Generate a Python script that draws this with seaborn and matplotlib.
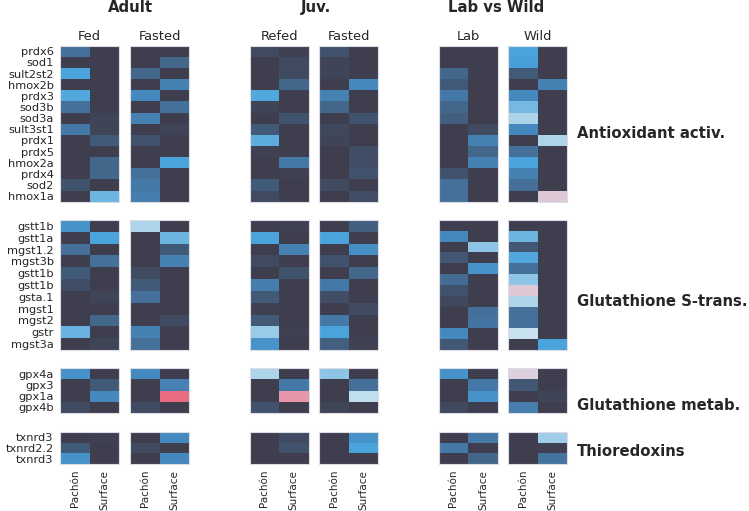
import numpy as np
import pandas as pd
import matplotlib
matplotlib.use("Agg")
import matplotlib.pyplot as plt
import seaborn as sns
from matplotlib.colors import LinearSegmentedColormap

# ---------------- data ----------------
strains = ["Pachón", "Surface"]
panel_titles = ["Fed", "Fasted", "Refed", "Fasted", "Lab", "Wild"]
group_titles = ["Adult", "Juv.", "Lab vs Wild"]
category_labels = ["Antioxidant activ.", "Glutathione S-trans.", "Glutathione metab.", "Thioredoxins"]

antiox_genes = ["prdx6", "sod1", "sult2st2", "hmox2b", "prdx3", "sod3b", "sod3a",
                "sult3st1", "prdx1", "prdx5", "hmox2a", "prdx4", "sod2", "hmox1a"]
gst_genes = ["gstt1b", "gstt1a", "mgst1.2", "mgst3b", "gstt1b", "gstt1b", "gsta.1",
             "mgst1", "mgst2", "gstr", "mgst3a"]
gpx_genes = ["gpx4a", "gpx3", "gpx1a", "gpx4b"]
trx_genes = ["txnrd3", "txnrd2.2", "txnrd3"]

# [Pachón, Surface] per gene (blue > 0, pink < 0)
antiox_adult_fed = [[0.30, 0], [0, 0], [0.60, 0], [0, 0], [0.62, 0], [0.30, 0], [0, 0.05],
                    [0.35, 0.05], [0, 0.20], [0, 0], [0, 0.25], [0, 0.25], [0.15, 0], [0, 0.70]]
antiox_adult_fasted = [[0, 0], [0, 0.25], [0.25, 0], [0, 0.40], [0.45, 0], [0, 0.30], [0.40, 0],
                       [0, 0.05], [0.15, 0], [0, 0], [0, 0.60], [0.30, 0], [0.35, 0], [0.38, 0]]
antiox_juv_refed = [[0.10, 0.02], [0, 0.10], [0, 0.10], [0, 0.25], [0.62, 0], [0.05, 0], [0, 0.15],
                    [0.20, 0], [0.65, 0], [0.03, 0], [0, 0.35], [0, 0.02], [0.20, 0], [0.10, 0]]
antiox_juv_fasted = [[0.15, 0], [0.05, 0], [0.05, 0], [0, 0.45], [0.40, 0], [0.25, 0], [0, 0.15],
                     [0.08, 0], [0.05, 0], [0, 0.12], [0, 0.12], [0, 0.15], [0.10, 0], [0, 0.12]]
antiox_lab = [[0, 0], [0, 0], [0.25, 0], [0.20, 0], [0.35, 0], [0.25, 0], [0.22, 0],
              [0, 0.10], [0, 0.40], [0, 0.25], [0, 0.40], [0.15, 0], [0.30, 0], [0.30, 0]]
antiox_wild = [[0.60, 0], [0.58, 0], [0.20, 0], [0, 0.40], [0.45, 0], [0.72, 0], [0.85, 0],
               [0.45, 0], [0, 0.85], [0.30, 0], [0.60, 0], [0.40, 0], [0.30, 0], [0, -0.85]]

gst_adult_fed = [[0.50, 0], [0, 0.60], [0.30, 0], [0, 0.30], [0.20, 0], [0.12, 0],
                 [0, 0.05], [0, 0], [0, 0.25], [0.68, 0], [0, 0.05]]
gst_adult_fasted = [[0.85, 0], [0, 0.70], [0, 0.20], [0, 0.40], [0.10, 0], [0.20, 0],
                    [0.30, 0], [0, 0], [0, 0.10], [0.40, 0], [0.30, 0]]
gst_juv_refed = [[0, 0.02], [0.60, 0], [0, 0.40], [0.10, 0], [0, 0.15], [0.38, 0],
                 [0.20, 0], [0.02, 0], [0.20, 0], [0.80, 0.02], [0.50, 0]]
gst_juv_fasted = [[0, 0.22], [0.60, 0], [0, 0.48], [0.15, 0], [0, 0.25], [0.35, 0],
                  [0.12, 0], [0, 0.10], [0.35, 0], [0.60, 0], [0.22, 0.02]]
gst_lab = [[0, 0], [0.45, 0], [0, 0.78], [0.18, 0], [0, 0.50], [0.28, 0],
           [0.15, 0], [0.08, 0], [0, 0.30], [0, 0.33], [0.45, 0], [0.18, 0]]
gst_wild = [[0, 0], [0.70, 0], [0.18, 0], [0.62, 0], [0.30, 0], [0.78, 0],
            [-0.85, 0], [0.85, 0], [0.30, 0], [0.30, 0], [0.95, 0], [0, 0.60]]

gpx_adult_fed = [[0.50, 0], [0, 0.20], [0, 0.45], [0.10, 0]]
gpx_adult_fasted = [[0.45, 0], [0, 0.40], [0, -0.40], [0.10, 0]]
gpx_juv_refed = [[0.85, 0], [0, 0.35], [0, -0.55], [0.15, 0]]
gpx_juv_fasted = [[0.78, 0], [0, 0.30], [0, 0.92], [0.05, 0]]
gpx_lab = [[0.50, 0], [0, 0.35], [0, 0.50], [0.08, 0]]
gpx_wild = [[-0.92, 0], [0.18, 0], [0, 0.05], [0.38, 0]]

trx_adult_fed = [[0, 0.02], [0.20, 0], [0.50, 0]]
trx_adult_fasted = [[0, 0.45], [0.10, 0], [0, 0.45]]
trx_juv_refed = [[0, 0.10], [0, 0.15], [0, 0]]
trx_juv_fasted = [[0, 0.50], [0, 0.60], [0, 0]]
trx_lab = [[0, 0.35], [0.35, 0], [0, 0.25]]
trx_wild = [[0, 0.82], [0, 0.02], [0, 0.32]]

groups = [
    (antiox_genes, [antiox_adult_fed, antiox_adult_fasted, antiox_juv_refed,
                    antiox_juv_fasted, antiox_lab, antiox_wild]),
    (gst_genes, [gst_adult_fed, gst_adult_fasted, gst_juv_refed,
                 gst_juv_fasted, gst_lab, gst_wild]),
    (gpx_genes, [gpx_adult_fed, gpx_adult_fasted, gpx_juv_refed,
                 gpx_juv_fasted, gpx_lab, gpx_wild]),
    (trx_genes, [trx_adult_fed, trx_adult_fasted, trx_juv_refed,
                 trx_juv_fasted, trx_lab, trx_wild]),
]

# ---------------- style ----------------
sns.set_theme(style="white")
plt.rcParams["font.family"] = ["DejaVu Sans"]
plt.rcParams["text.color"] = "#262626"
plt.rcParams["xtick.color"] = "#262626"
plt.rcParams["ytick.color"] = "#262626"

nodes = [(-1.0, "#dcd8e6"), (-0.85, "#dfc8d6"), (-0.55, "#e595a8"), (-0.4, "#e96a80"),
         (-0.2, "#8a4e64"), (0.0, "#3f3e4e"), (0.1, "#404a60"), (0.2, "#415a78"),
         (0.3, "#44709a"), (0.45, "#4588be"), (0.6, "#4aa3db"), (0.72, "#72b8e2"),
         (0.85, "#aed4ea"), (1.0, "#d4e8f2")]
cmap = LinearSegmentedColormap.from_list("darkdiv", [((v + 1) / 2, c) for v, c in nodes])

W, H = 749, 511
fig = plt.figure(figsize=(W / 100, H / 100), dpi=100)

col_x = [60, 130, 249.5, 319, 438.7, 508.3]
col_w = 59
row_y = [(45.7, 201.7), (220, 350), (368.3, 412.7), (431.7, 464.3)]
label_y = [133, 301.7, 405, 451]
title_x = [130.8, 315.8, 496.5]

def px_axes(x, y0, y1, w):
    return fig.add_axes([x / W, 1 - y1 / H, w / W, (y1 - y0) / H])

for gi, (genes, panels) in enumerate(groups):
    y0, y1 = row_y[gi]
    for pi, vals in enumerate(panels):
        ax = px_axes(col_x[pi], y0, y1, col_w)
        df = pd.DataFrame(np.array(vals, dtype=float), columns=strains)
        sns.heatmap(df, ax=ax, cmap=cmap, vmin=-1, vmax=1, cbar=False,
                    xticklabels=strains, yticklabels=False)
        for sp in ax.spines.values():
            sp.set_visible(True)
            sp.set_color("#dcdce4")
            sp.set_linewidth(0.8)
        if pi == 0:
            ax.set_yticks(np.arange(len(genes)) + 0.5)
            ax.set_yticklabels(genes, rotation=0, fontsize=8.2)
            ax.tick_params(axis="y", length=3, width=0.8, pad=1.5)
        else:
            ax.set_yticks([])
        if gi == len(groups) - 1:
            ax.set_xticklabels(strains, rotation=90, fontsize=7.5)
            ax.tick_params(axis="x", length=3, width=0.8, pad=1)
        else:
            ax.set_xticks([])
        ax.set_xlabel("")
        ax.set_ylabel("")
        if gi == 0:
            ax.set_title(panel_titles[pi], fontsize=9.4, pad=4)
    fig.text(577 / W, 1 - label_y[gi] / H, category_labels[gi], fontsize=10.7,
             fontweight="bold", ha="left", va="center")

for ti, t in enumerate(group_titles):
    fig.text(title_x[ti] / W, 1 - 7.5 / H, t, fontsize=10.7, fontweight="bold",
             ha="center", va="center")

fig.savefig("out.png", dpi=100)
